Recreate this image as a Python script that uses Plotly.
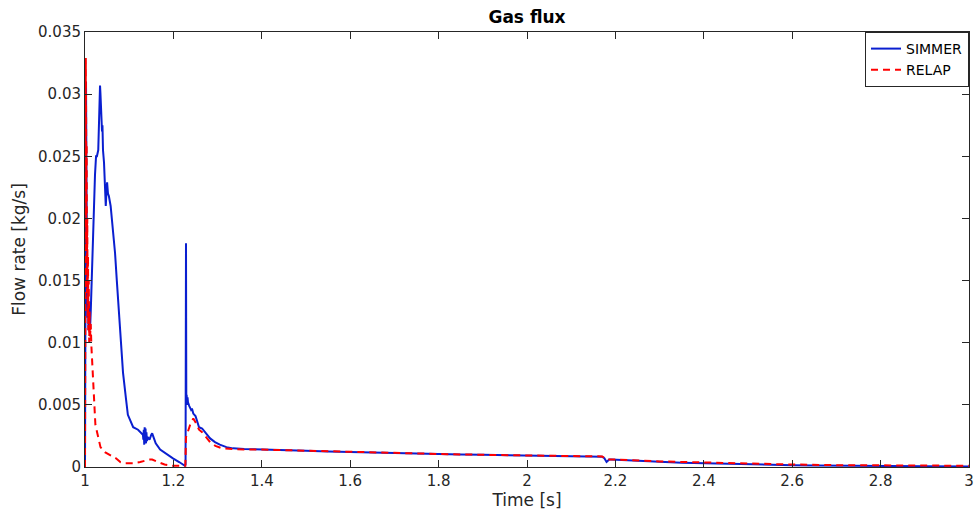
import plotly.graph_objects as go

# SIMMER (blue solid)
simmer_t = [1.0, 1.001, 1.0023, 1.0035, 1.0045, 1.0058, 1.0068, 1.008, 1.0095, 1.0113, 1.013, 1.0158,
            1.018, 1.0205, 1.0226, 1.025, 1.027, 1.030, 1.032, 1.034, 1.035, 1.036, 1.0385, 1.0395,
            1.0407, 1.043, 1.045, 1.047, 1.049, 1.050, 1.052, 1.054, 1.058, 1.063, 1.068, 1.072,
            1.077, 1.084, 1.086, 1.093, 1.097, 1.109, 1.120, 1.131, 1.132, 1.133, 1.134, 1.135,
            1.136, 1.137, 1.138, 1.139, 1.140, 1.142, 1.146, 1.150, 1.152, 1.156, 1.160, 1.170,
            1.185, 1.199, 1.213, 1.226, 1.2275, 1.2285, 1.2292, 1.2300, 1.2310, 1.2320, 1.233,
            1.236, 1.240, 1.242, 1.245, 1.250, 1.253, 1.258, 1.265, 1.274, 1.283, 1.294, 1.305,
            1.32, 1.335, 1.36, 1.396, 1.45, 1.5, 1.55, 1.6, 1.65, 1.7, 1.75, 1.8, 1.85, 1.9, 1.95,
            2.0, 2.05, 2.1, 2.15, 2.17, 2.175, 2.18, 2.183, 2.186, 2.19, 2.2, 2.25, 2.3, 2.35, 2.4,
            2.45, 2.5, 2.55, 2.6, 2.65, 2.7, 2.8, 2.9, 3.0]
simmer_q = [0.0, 0.012, 0.031, 0.022, 0.016, 0.012, 0.014, 0.011, 0.013, 0.011, 0.0125, 0.016,
            0.019, 0.022, 0.0235, 0.025, 0.025, 0.0255, 0.029, 0.0307, 0.030, 0.0293, 0.027, 0.0275,
            0.0255, 0.0245, 0.0215, 0.021, 0.0225, 0.0229, 0.022, 0.0218, 0.021, 0.0193, 0.0172, 0.015,
            0.0124, 0.0094, 0.0076, 0.0054, 0.0042, 0.0032, 0.0030, 0.0026, 0.0022, 0.0030, 0.0018, 0.0032,
            0.0020, 0.0031, 0.0019, 0.0028, 0.0021, 0.0024, 0.0022, 0.0026, 0.0027, 0.0023, 0.0019, 0.0014,
            0.0010, 0.0007, 0.0004, 0.0001, 0.0002, 0.018, 0.0052, 0.0058, 0.0050, 0.0056, 0.0052,
            0.0049, 0.0046, 0.0047, 0.0043, 0.0041, 0.0037, 0.0032, 0.0031, 0.0027, 0.0023, 0.0020, 0.0018,
            0.0016, 0.0015, 0.00145, 0.0014, 0.00135, 0.0013, 0.00125, 0.0012, 0.00115, 0.0011, 0.00108,
            0.00105, 0.0010, 0.00098, 0.00095,
            0.00093, 0.0009, 0.00088, 0.00085, 0.00083, 0.0007, 0.0004, 0.0005, 0.0006, 0.0006, 0.00058,
            0.0005, 0.00042, 0.00035, 0.0003,
            0.00025, 0.0002, 0.00017, 0.00015, 0.00012, 0.0001, 0.00008, 0.00006, 0.00005]

# RELAP (red dashed)
relap_t = [1.0, 1.001, 1.0018, 1.0025, 1.003, 1.0038, 1.0045, 1.0052, 1.006, 1.0068, 1.0075, 1.0085,
           1.0095, 1.0105, 1.0115, 1.013, 1.0145, 1.017, 1.0215, 1.0235, 1.028, 1.035, 1.045, 1.056,
           1.07, 1.08, 1.09, 1.109, 1.125, 1.145, 1.152, 1.165, 1.18, 1.199, 1.215, 1.227, 1.2285,
           1.232, 1.238, 1.245, 1.25, 1.258, 1.265, 1.274, 1.283, 1.295, 1.31, 1.335, 1.36, 1.4,
           1.5, 1.6, 1.7, 1.8, 1.9, 2.0, 2.1, 2.17, 2.18, 2.2, 2.3, 2.4, 2.5, 2.6, 2.7, 2.8, 2.9, 3.0]
relap_q = [0.0, 0.020, 0.0329, 0.028, 0.018, 0.026, 0.014, 0.020, 0.012, 0.017, 0.011, 0.015,
           0.010, 0.0125, 0.0105, 0.0115, 0.0097, 0.0078, 0.0046, 0.0034, 0.0027, 0.0016, 0.0012, 0.0010,
           0.0007, 0.0004, 0.0003, 0.0003, 0.0004, 0.0006, 0.0006, 0.0004, 0.0002, 0.0001, 0.0001, 0.0001, 0.0024,
           0.0028, 0.0034, 0.0039, 0.0036, 0.0030, 0.0028, 0.0024, 0.0020, 0.0017, 0.0015, 0.00145, 0.0014, 0.0014,
           0.0013, 0.0012, 0.0011, 0.00105, 0.00098, 0.00093, 0.00088, 0.00085, 0.0006, 0.0006, 0.00045, 0.00035,
           0.00025, 0.0002, 0.00015, 0.00012, 0.0001, 0.0001]

x_ticks = [1, 1.2, 1.4, 1.6, 1.8, 2, 2.2, 2.4, 2.6, 2.8, 3]
y_ticks = [0, 0.005, 0.01, 0.015, 0.02, 0.025, 0.03, 0.035]
y_ticklabels = ["0", "0.005", "0.01", "0.015", "0.02", "0.025", "0.03", "0.035"]

ink = "#262626"
fig = go.Figure()
fig.add_trace(go.Scatter(x=simmer_t, y=simmer_q, mode="lines", name="SIMMER",
                         line=dict(color="#0a1fd0", width=2)))
fig.add_trace(go.Scatter(x=relap_t, y=relap_q, mode="lines", name="RELAP",
                         line=dict(color="#ff0000", width=2, dash="7px,5px")))

fig.update_layout(
    width=977, height=516,
    margin=dict(l=85, r=8, t=32, b=49, autoexpand=False),
    paper_bgcolor="white", plot_bgcolor="white",
    font=dict(family="DejaVu Sans", color=ink, size=15),
    title=dict(text="<b>Gas flux</b>", x=0.5, xref="paper", y=0.978, yref="container",
               yanchor="top", font=dict(size=17, color="black")),
    showlegend=True,
    legend=dict(x=1, xanchor="right", y=1, yanchor="top", bgcolor="white",
                bordercolor=ink, borderwidth=1, font=dict(size=14, color="black"),
                itemwidth=30, tracegroupgap=0),
    xaxis=dict(range=[1, 3], tickvals=x_ticks, ticks="inside", ticklen=7, tickcolor=ink,
               showline=True, linecolor=ink, linewidth=1, mirror="ticks", showgrid=False,
               zeroline=False, tickfont=dict(size=15), automargin=False,
               title=dict(text="Time [s]", font=dict(size=17), standoff=4)),
    yaxis=dict(range=[0, 0.035], tickvals=y_ticks, ticktext=y_ticklabels, ticks="inside",
               ticklen=7, tickcolor=ink, showline=True, linecolor=ink, linewidth=1,
               mirror="ticks", showgrid=False, zeroline=False, tickfont=dict(size=15),
               automargin=False,
               title=dict(text="Flow rate [kg/s]", font=dict(size=17), standoff=8)),
)
fig.write_html("out.html")
